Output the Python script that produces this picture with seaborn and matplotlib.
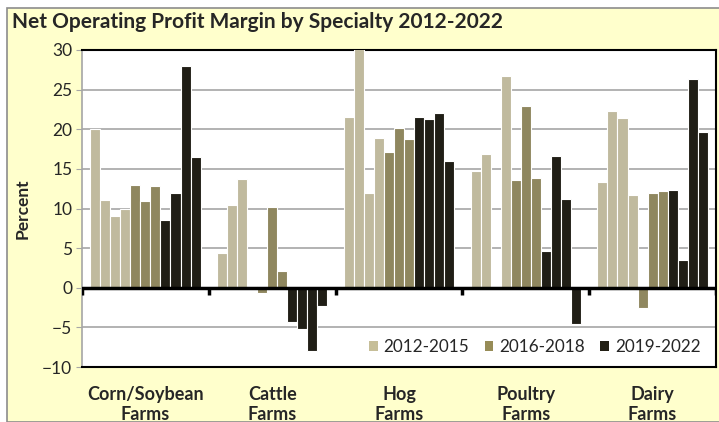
"""Net operating profit margin by farm specialty, 2012-2022."""

import matplotlib
matplotlib.use("Agg")
import matplotlib.pyplot as plt
from matplotlib.patches import Rectangle, Patch
import numpy as np
import pandas as pd
import seaborn as sns

# --- data ---
specialties = ["Corn/Soybean\nFarms", "Cattle\nFarms", "Hog\nFarms",
               "Poultry\nFarms", "Dairy\nFarms"]
years = [str(y) for y in range(2012, 2023)]

corn_soy = [20.0, 11.1, 9.0, 9.9, 13.0, 10.9, 12.9, 8.5, 12.0, 28.0, 16.5]
cattle   = [4.4, 10.5, 13.7, 0.2, -0.6, 10.2, 2.1, -4.3, -5.2, -8.0, -2.3]
hog      = [21.6, 30.8, 11.9, 18.9, 17.1, 20.1, 18.8, 21.5, 21.3, 22.0, 16.0]
poultry  = [14.7, 16.9, np.nan, 26.7, 13.6, 22.9, 13.8, 4.7, 16.6, 11.2, -4.6]
dairy    = [13.4, 22.3, 21.4, 11.7, -2.5, 12.0, 12.2, 12.3, 3.5, 26.4, 19.7]

periods = ["2012-2015", "2016-2018", "2019-2022"]
period_of_year = ["2012-2015"] * 4 + ["2016-2018"] * 3 + ["2019-2022"] * 4
period_colors = {"2012-2015": "#C6BE98", "2016-2018": "#978C57", "2019-2022": "#221F14"}

series = [corn_soy, cattle, hog, poultry, dairy]
df = pd.DataFrame(
    [(s, y, v) for s, vals in zip(specialties, series) for y, v in zip(years, vals)],
    columns=["specialty", "year", "value"],
)
year_palette = {y: period_colors[p] for y, p in zip(years, period_of_year)}

# --- figure ---
sns.set_style("white")
plt.rcParams["font.family"] = ["Lato", "DejaVu Sans"]

fig = plt.figure(figsize=(7.19, 4.22), dpi=100)
fig.patch.set_facecolor("white")
fig.patches.append(Rectangle((7 / 719, 0), 1.0, 1 - 8 / 422, transform=fig.transFigure,
                             facecolor="#FFFFCC", edgecolor="#8C8C8C", lw=1.2, zorder=-1))

ax = fig.add_axes([82 / 719, 1 - 367 / 422, (716 - 82) / 719, (367 - 50) / 422])
ax.set_facecolor("white")

sns.barplot(data=df, x="specialty", y="value", hue="year", palette=year_palette,
            width=0.87, errorbar=None, edgecolor="white", linewidth=0.8,
            legend=False, ax=ax, zorder=3)

ax.set_ylim(-10, 30)
ax.set_xlim(-0.5, len(specialties) - 0.5)
ax.set_yticks(range(-10, 31, 5))
ax.yaxis.grid(True, color="#A6A6A6", lw=1.2, zorder=0)
ax.set_axisbelow(True)

# zero axis with group-separator tick marks
ax.axhline(0, color="black", lw=2.5, zorder=4)
ax.vlines(np.arange(-0.5, len(specialties)), -0.9, 0, color="black", lw=2.5, zorder=4)

for side in ["top", "right", "bottom"]:
    ax.spines[side].set_color("black")
    ax.spines[side].set_linewidth(1.5)
ax.spines["left"].set_color("#A6A6A6")
ax.spines["left"].set_linewidth(1.2)

ax.tick_params(axis="y", length=4, color="#A6A6A6", labelsize=12.5, pad=3, left=True)
ax.tick_params(axis="x", length=0, labelsize=13, pad=14)
for lab in ax.get_xticklabels():
    lab.set_fontweight("bold")
    lab.set_linespacing(1.15)

ax.set_xlabel("")
ax.set_ylabel("Percent", fontsize=12.5, fontweight="bold", labelpad=8)

handles = [Patch(facecolor=period_colors[p], edgecolor="none") for p in periods]
ax.legend(handles, periods, loc="lower right", bbox_to_anchor=(1.0, -0.012), ncol=3,
          frameon=False, fontsize=12.3, handlelength=0.5, handleheight=0.5,
          handletextpad=0.35, columnspacing=0.9)

fig.text(12 / 719, 1 - 22 / 422, "Net Operating Profit Margin by Specialty 2012-2022",
         fontsize=15, fontweight="bold", va="center", ha="left")

fig.savefig("out.png", dpi=100)
